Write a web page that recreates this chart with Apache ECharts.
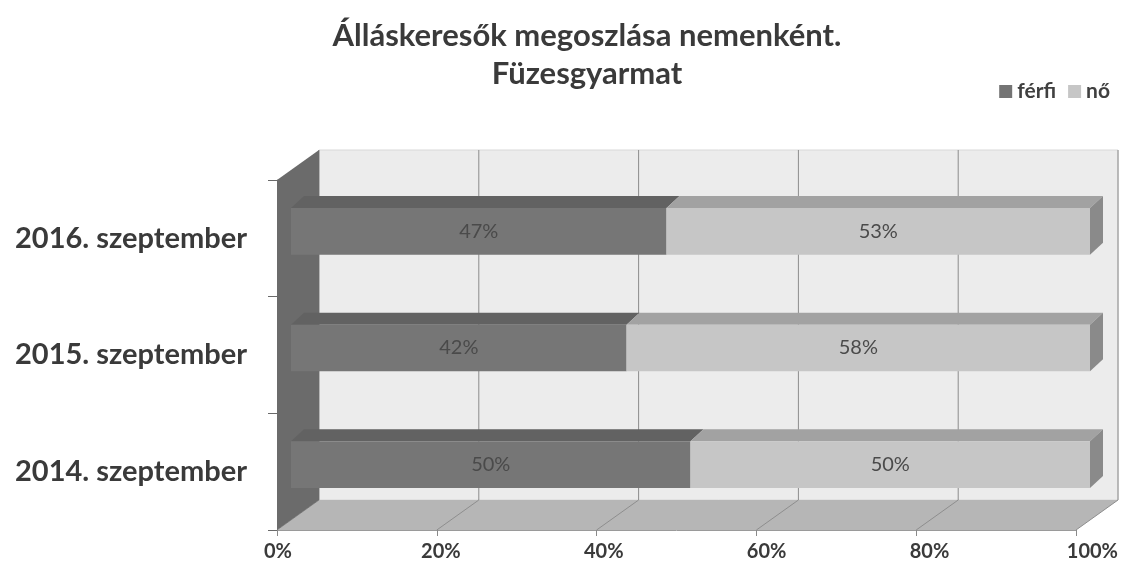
<!DOCTYPE html>
<html><head><meta charset="utf-8">
<script src="https://cdn.jsdelivr.net/npm/echarts@6/dist/echarts.min.js"></script>
<style>html,body{margin:0;padding:0;background:#fff}#c{width:1121px;height:576px}</style>
</head><body><div id="c"></div>
<script>
const titleText = 'Álláskeresők megoszlása nemenként.\nFüzesgyarmat';
const categories = ['2014. szeptember', '2015. szeptember', '2016. szeptember'];
const seriesNames = ['férfi', 'nő'];
const ferfi = [50, 42, 47];
const no = [50, 58, 53];
const xTicks = [0, 20, 40, 60, 80, 100];

// 3D look (pixel offsets)
const WALL_DX = 42, WALL_DY = 30;
const BAR_DX = 14, BAR_DY = -7;
const BD_X = 13, BD_Y = 12;
const FONT = 'Lato';

const ferfiData = categories.map((c, i) => [0, ferfi[i], i]);
const noData = categories.map((c, i) => [ferfi[i], ferfi[i] + no[i], i]);

function wallsRender(params, api) {
  const cs = params.coordSys;
  const L = cs.x, T = cs.y, R = cs.x + cs.width, B = cs.y + cs.height;
  const ch = [];
  ch.push({type: 'rect', shape: {x: L + WALL_DX, y: T - WALL_DY, width: R - L, height: B - T},
    style: {fill: '#ececec', stroke: '#d8d8d8', lineWidth: 1}});
  xTicks.forEach(t => {
    const x = api.coord([t, 0])[0];
    ch.push({type: 'line', shape: {x1: x + WALL_DX, y1: T - WALL_DY, x2: x + WALL_DX, y2: B - WALL_DY},
      style: {stroke: '#8c8c8c', lineWidth: 1}});
  });
  ch.push({type: 'polygon', shape: {points: [[L, B], [R, B], [R + WALL_DX, B - WALL_DY], [L + WALL_DX, B - WALL_DY]]},
    style: {fill: '#b6b6b6'}});
  xTicks.forEach(t => {
    const x = api.coord([t, 0])[0];
    ch.push({type: 'line', shape: {x1: x, y1: B, x2: x + WALL_DX, y2: B - WALL_DY},
      style: {stroke: '#8e8e8e', lineWidth: 1}});
  });
  ch.push({type: 'polygon', shape: {points: [[L, T], [L + WALL_DX, T - WALL_DY], [L + WALL_DX, B - WALL_DY], [L, B]]},
    style: {fill: '#6b6b6b'}});
  return {type: 'group', children: ch};
}

function barRender(face, top, side, drawSide, values) {
  return function (params, api) {
    const a = api.coord([api.value(0), api.value(2)]);
    const b = api.coord([api.value(1), api.value(2)]);
    const band = api.size([0, 1])[1];
    const h = band * 0.40;
    const x1 = a[0] + BAR_DX, x2 = b[0] + BAR_DX;
    const yc = a[1] + BAR_DY;
    const yt = yc - h / 2, yb = yc + h / 2;
    const ch = [
      {type: 'polygon', shape: {points: [[x1, yt], [x2, yt], [x2 + BD_X, yt - BD_Y], [x1 + BD_X, yt - BD_Y]]}, style: {fill: top}},
      {type: 'rect', shape: {x: x1, y: yt, width: x2 - x1, height: h}, style: {fill: face}}
    ];
    if (drawSide) {
      ch.push({type: 'polygon', shape: {points: [[x2, yt], [x2 + BD_X, yt - BD_Y], [x2 + BD_X, yb - BD_Y], [x2, yb]]}, style: {fill: side}});
    }
    ch.push({type: 'text', style: {text: values[params.dataIndex] + '%', x: (x1 + x2) / 2, y: yc,
      align: 'center', verticalAlign: 'middle', font: '20px ' + FONT, fill: '#4a4a4a'}});
    return {type: 'group', children: ch};
  };
}

const chart = echarts.init(document.getElementById('c'), null, {renderer: 'canvas'});
chart.setOption({
  backgroundColor: '#ffffff',
  animation: false,
  color: ['#747474', '#c6c6c6'],
  title: {
    text: titleText, left: 582, top: 12, textAlign: 'center',
    textStyle: {fontFamily: FONT, fontWeight: 'bold', fontSize: 31, color: '#3a3a3a', lineHeight: 38}
  },
  legend: {
    data: seriesNames, right: 6, top: 76, icon: 'rect', itemWidth: 13, itemHeight: 13, itemGap: 12,
    textStyle: {fontFamily: FONT, fontWeight: 'bold', fontSize: 21, color: '#404040'}
  },
  grid: [
    {left: 277, right: 45, top: 180, bottom: 46},
    {left: 278, right: 24, top: 180, bottom: 46}
  ],
  xAxis: [
    {type: 'value', gridIndex: 0, min: 0, max: 100, interval: 20,
      axisLine: {show: true, lineStyle: {color: '#9a9a9a'}},
      axisTick: {show: true, length: 6, lineStyle: {color: '#8a8a8a'}},
      axisLabel: {show: false}, splitLine: {show: false}},
    {type: 'value', gridIndex: 1, min: 0, max: 100, interval: 20,
      axisLine: {show: false}, axisTick: {show: false}, splitLine: {show: false},
      axisLabel: {formatter: '{value}%', margin: 12, fontFamily: FONT, fontWeight: 'bold', fontSize: 20, color: '#3a3a3a'}}
  ],
  yAxis: [
    {type: 'category', gridIndex: 0, data: categories,
      axisLine: {show: true, lineStyle: {color: '#9a9a9a'}},
      axisTick: {show: true, length: 9, lineStyle: {color: '#6a6a6a'}},
      axisLabel: {margin: 30, fontFamily: FONT, fontWeight: 'bold', fontSize: 29, color: '#3a3a3a'}},
    {type: 'category', gridIndex: 1, data: categories, show: false}
  ],
  series: [
    {type: 'custom', name: 'walls', xAxisIndex: 0, yAxisIndex: 0, data: [[0, 0]], renderItem: wallsRender, silent: true, z: 1},
    {type: 'custom', name: 'férfi', xAxisIndex: 0, yAxisIndex: 0, data: ferfiData,
      itemStyle: {color: '#747474'}, renderItem: barRender('#767676', '#626262', '#5a5a5a', false, ferfi), z: 3},
    {type: 'custom', name: 'nő', xAxisIndex: 0, yAxisIndex: 0, data: noData,
      itemStyle: {color: '#c6c6c6'}, renderItem: barRender('#c6c6c6', '#a2a2a2', '#8a8a8a', true, no), z: 3}
  ]
});
</script></body></html>
